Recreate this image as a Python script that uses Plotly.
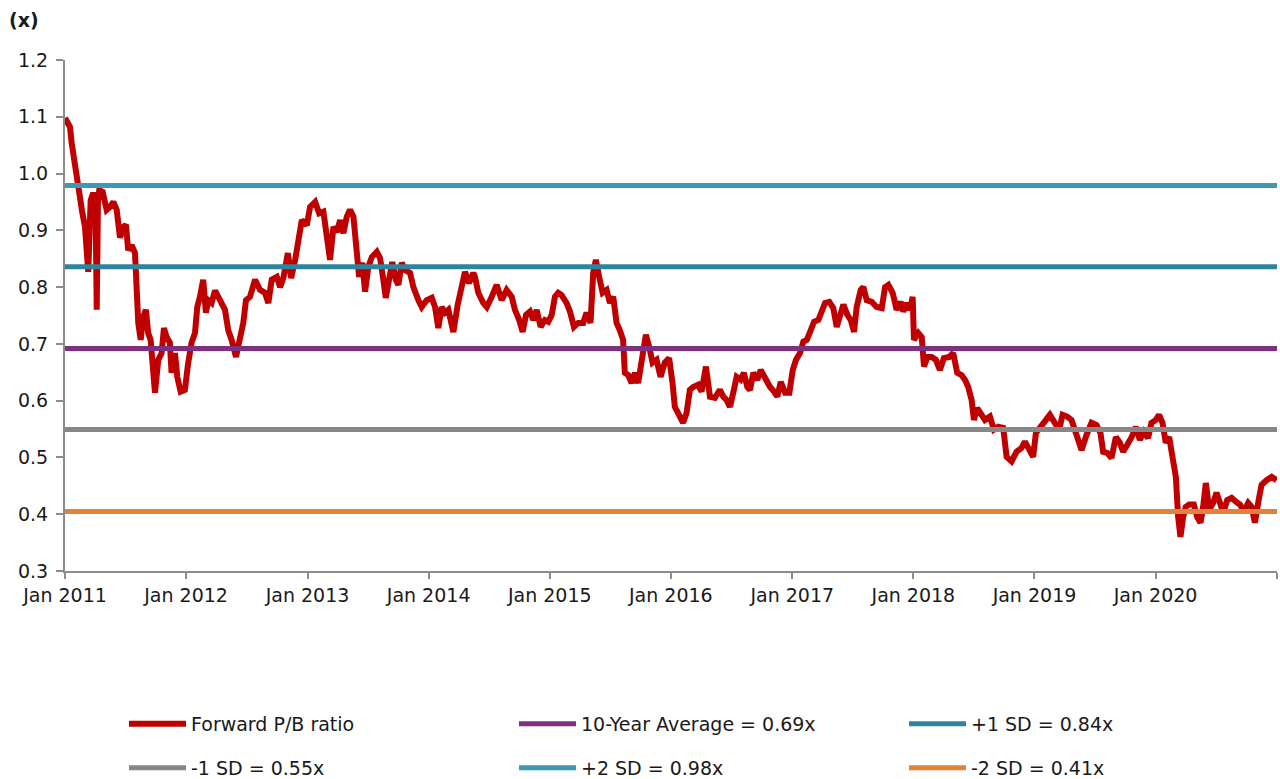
import pandas as pd
import plotly.graph_objects as go

# x positions, in years elapsed since 1 Jan 2011
years_from_jan2011 = [
    0.000, 0.041, 0.055, 0.074, 0.097, 0.107, 0.124, 0.140, 0.165, 0.192,
    0.212, 0.233, 0.252, 0.262, 0.272, 0.283, 0.311, 0.344, 0.371, 0.399,
    0.427, 0.454, 0.481, 0.503, 0.522, 0.550, 0.578, 0.592, 0.605, 0.625,
    0.646, 0.668, 0.687, 0.707, 0.724, 0.743, 0.770, 0.798, 0.817, 0.839,
    0.866, 0.880, 0.908, 0.927, 0.955, 0.990, 1.017, 1.045, 1.073, 1.092,
    1.114, 1.141, 1.163, 1.182, 1.210, 1.238, 1.279, 1.320, 1.347, 1.375,
    1.411, 1.444, 1.471, 1.493, 1.526, 1.568, 1.609, 1.650, 1.677, 1.705,
    1.747, 1.774, 1.801, 1.838, 1.865, 1.898, 1.925, 1.953, 1.994, 2.021,
    2.063, 2.096, 2.131, 2.159, 2.186, 2.214, 2.242, 2.269, 2.296, 2.324,
    2.351, 2.379, 2.407, 2.426, 2.453, 2.475, 2.502, 2.531, 2.572, 2.599,
    2.626, 2.646, 2.673, 2.700, 2.729, 2.750, 2.778, 2.805, 2.847, 2.874,
    2.915, 2.943, 2.984, 3.026, 3.053, 3.080, 3.108, 3.135, 3.163, 3.204,
    3.240, 3.273, 3.300, 3.333, 3.369, 3.383, 3.410, 3.452, 3.480, 3.521,
    3.562, 3.603, 3.644, 3.686, 3.713, 3.748, 3.776, 3.804, 3.837, 3.864,
    3.892, 3.925, 3.960, 3.988, 4.016, 4.043, 4.070, 4.098, 4.139, 4.167,
    4.200, 4.235, 4.276, 4.304, 4.337, 4.359, 4.381, 4.408, 4.437, 4.470,
    4.497, 4.524, 4.552, 4.579, 4.606, 4.620, 4.648, 4.676, 4.703, 4.730,
    4.758, 4.794, 4.821, 4.849, 4.882, 4.915, 4.950, 4.986, 5.014, 5.033,
    5.060, 5.101, 5.129, 5.157, 5.184, 5.225, 5.253, 5.289, 5.322, 5.363,
    5.404, 5.432, 5.460, 5.487, 5.514, 5.542, 5.575, 5.602, 5.630, 5.652,
    5.679, 5.712, 5.740, 5.776, 5.817, 5.850, 5.877, 5.905, 5.941, 5.976,
    6.004, 6.031, 6.064, 6.092, 6.120, 6.147, 6.180, 6.215, 6.243, 6.271,
    6.306, 6.339, 6.367, 6.394, 6.422, 6.455, 6.483, 6.510, 6.532, 6.565,
    6.587, 6.615, 6.656, 6.697, 6.739, 6.766, 6.793, 6.829, 6.862, 6.895,
    6.917, 6.945, 6.972, 6.994, 7.005, 7.041, 7.069, 7.088, 7.115, 7.151,
    7.186, 7.219, 7.252, 7.296, 7.329, 7.362, 7.398, 7.426, 7.453, 7.481,
    7.500, 7.527, 7.564, 7.591, 7.632, 7.665, 7.701, 7.742, 7.770, 7.811,
    7.852, 7.894, 7.921, 7.956, 7.989, 8.012, 8.050, 8.086, 8.127, 8.168,
    8.204, 8.232, 8.270, 8.306, 8.347, 8.389, 8.430, 8.471, 8.512, 8.545,
    8.567, 8.600, 8.636, 8.672, 8.705, 8.732, 8.765, 8.803, 8.837, 8.870,
    8.903, 8.938, 8.966, 9.002, 9.029, 9.057, 9.084, 9.112, 9.139, 9.167,
    9.186, 9.205, 9.227, 9.249, 9.277, 9.315, 9.343, 9.370, 9.392, 9.414,
    9.442, 9.475, 9.502, 9.530, 9.557, 9.590, 9.626, 9.662, 9.695, 9.728,
    9.763, 9.791, 9.818, 9.849, 9.873, 9.914, 9.956, 9.997,
]

forward_pb = [
    1.098, 1.082, 1.054, 1.024, 0.994, 0.971, 0.960, 0.935, 0.906, 0.827,
    0.953, 0.966, 0.950, 0.760, 0.950, 0.971, 0.968, 0.936, 0.941, 0.950,
    0.936, 0.887, 0.906, 0.910, 0.865, 0.874, 0.860, 0.772, 0.737, 0.707,
    0.748, 0.760, 0.719, 0.707, 0.654, 0.614, 0.672, 0.684, 0.728, 0.712,
    0.702, 0.649, 0.684, 0.642, 0.616, 0.619, 0.666, 0.702, 0.719, 0.765,
    0.783, 0.813, 0.755, 0.777, 0.772, 0.794, 0.777, 0.760, 0.724, 0.707,
    0.677, 0.712, 0.737, 0.777, 0.783, 0.813, 0.795, 0.790, 0.772, 0.813,
    0.818, 0.800, 0.816, 0.860, 0.816, 0.848, 0.883, 0.918, 0.909, 0.941,
    0.950, 0.930, 0.933, 0.895, 0.848, 0.906, 0.897, 0.918, 0.895, 0.924,
    0.936, 0.924, 0.871, 0.818, 0.843, 0.792, 0.836, 0.853, 0.862, 0.851,
    0.813, 0.781, 0.813, 0.844, 0.813, 0.804, 0.843, 0.830, 0.825, 0.800,
    0.777, 0.765, 0.777, 0.781, 0.765, 0.728, 0.765, 0.755, 0.760, 0.721,
    0.769, 0.807, 0.827, 0.807, 0.825, 0.818, 0.790, 0.772, 0.765, 0.783,
    0.804, 0.777, 0.795, 0.783, 0.760, 0.742, 0.721, 0.751, 0.757, 0.742,
    0.760, 0.730, 0.742, 0.739, 0.751, 0.783, 0.790, 0.786, 0.772, 0.757,
    0.730, 0.737, 0.737, 0.755, 0.737, 0.825, 0.848, 0.818, 0.790, 0.795,
    0.772, 0.783, 0.737, 0.724, 0.707, 0.649, 0.645, 0.631, 0.649, 0.631,
    0.677, 0.716, 0.695, 0.667, 0.672, 0.642, 0.667, 0.675, 0.631, 0.589,
    0.578, 0.561, 0.578, 0.619, 0.624, 0.628, 0.616, 0.660, 0.607, 0.605,
    0.619, 0.607, 0.601, 0.589, 0.614, 0.642, 0.637, 0.649, 0.624, 0.619,
    0.649, 0.637, 0.654, 0.637, 0.624, 0.616, 0.607, 0.633, 0.614, 0.614,
    0.654, 0.672, 0.684, 0.704, 0.707, 0.721, 0.739, 0.742, 0.757, 0.772,
    0.774, 0.763, 0.730, 0.746, 0.769, 0.751, 0.742, 0.721, 0.765, 0.795,
    0.800, 0.777, 0.774, 0.765, 0.763, 0.800, 0.804, 0.790, 0.760, 0.774,
    0.757, 0.772, 0.760, 0.783, 0.707, 0.719, 0.712, 0.660, 0.677, 0.677,
    0.672, 0.654, 0.675, 0.677, 0.684, 0.649, 0.645, 0.637, 0.624, 0.601,
    0.566, 0.587, 0.572, 0.566, 0.572, 0.549, 0.554, 0.552, 0.501, 0.493,
    0.510, 0.517, 0.528, 0.513, 0.501, 0.543, 0.554, 0.561, 0.575, 0.561,
    0.549, 0.575, 0.572, 0.566, 0.543, 0.513, 0.540, 0.561, 0.557, 0.543,
    0.510, 0.508, 0.499, 0.536, 0.526, 0.510, 0.522, 0.536, 0.554, 0.531,
    0.545, 0.534, 0.561, 0.566, 0.575, 0.561, 0.526, 0.536, 0.501, 0.466,
    0.395, 0.360, 0.395, 0.413, 0.417, 0.417, 0.395, 0.385, 0.413, 0.455,
    0.408, 0.420, 0.438, 0.417, 0.403, 0.425, 0.429, 0.422, 0.417, 0.405,
    0.420, 0.413, 0.385, 0.425, 0.452, 0.460, 0.466, 0.460,
]

ref_names = ["10-Year Average = 0.69x", "+1 SD = 0.84x", "-1 SD = 0.55x",
             "+2 SD = 0.98x", "-2 SD = 0.41x"]
ref_values = [0.692, 0.836, 0.549, 0.979, 0.405]
ref_colors = ["#7F2F7F", "#2E849C", "#878787", "#3F99B2", "#E0843A"]
ref_legend_row = ["legend", "legend", "legend2", "legend2", "legend2"]

tick_years = list(range(2011, 2022))
tick_labels = [f"Jan {y}" for y in range(2011, 2021)] + [""]

start = pd.Timestamp("2011-01-01")
end = pd.Timestamp("2021-01-01")


def to_date(offset):
    y = 2011 + int(offset)
    y0 = pd.Timestamp(year=y, month=1, day=1)
    y1 = pd.Timestamp(year=y + 1, month=1, day=1)
    return y0 + (y1 - y0) * (offset - int(offset))


dates = [to_date(t) for t in years_from_jan2011]

FONT = "DejaVu Sans"
FS = 19
TXT = "#1a1a1a"
fig = go.Figure()
fig.add_trace(go.Scatter(x=dates, y=forward_pb, mode="lines", name="Forward P/B ratio",
                         legend="legend", line=dict(color="#C00000", width=6)))
for n, v, c, lg in zip(ref_names, ref_values, ref_colors, ref_legend_row):
    fig.add_trace(go.Scatter(x=[start, end], y=[v, v], mode="lines", name=n,
                             legend=lg, line=dict(color=c, width=5)))

leg_common = dict(orientation="h", xref="container", yref="container",
                  xanchor="left", yanchor="middle", entrywidth=318,
                  itemwidth=57, font=dict(family=FONT, size=FS, color=TXT),
                  bgcolor="rgba(0,0,0,0)", borderwidth=0)

fig.update_layout(
    width=1280, height=779,
    margin=dict(l=65, r=3, t=60, b=208),
    paper_bgcolor="white", plot_bgcolor="white",
    font=dict(family=FONT, size=FS, color=TXT),
    showlegend=True,
    legend=dict(x=124 / 1280, y=(779 - 724) / 779, **leg_common),
    legend2=dict(x=124 / 1280, y=(779 - 768) / 779, **leg_common),
    annotations=[dict(text="<b>(x)</b>", xref="paper", yref="paper",
                      x=-0.048, y=1.078, xanchor="left", yanchor="middle",
                      showarrow=False, font=dict(family=FONT, size=FS, color=TXT))],
)
fig.update_xaxes(range=[start, end], tickvals=[pd.Timestamp(year=y, month=1, day=1) for y in tick_years],
                 ticktext=tick_labels, showgrid=False, zeroline=False,
                 showline=True, linecolor="#8C8C8C", linewidth=2,
                 ticks="outside", ticklen=6, tickcolor="#8C8C8C", tickwidth=2,
                 tickfont=dict(family=FONT, size=FS, color=TXT))
fig.update_yaxes(range=[0.3, 1.2], dtick=0.1, tick0=0.3, tickformat=".1f",
                 showgrid=False, zeroline=False,
                 showline=True, linecolor="#8C8C8C", linewidth=2,
                 ticks="outside", ticklen=7, tickcolor="#8C8C8C", tickwidth=2,
                 ticklabelstandoff=4,
                 tickfont=dict(family=FONT, size=FS, color=TXT))

fig.write_html("out.html", config={"displayModeBar": False},
               post_script="document.body.style.margin='0';document.body.style.overflow='hidden';")
